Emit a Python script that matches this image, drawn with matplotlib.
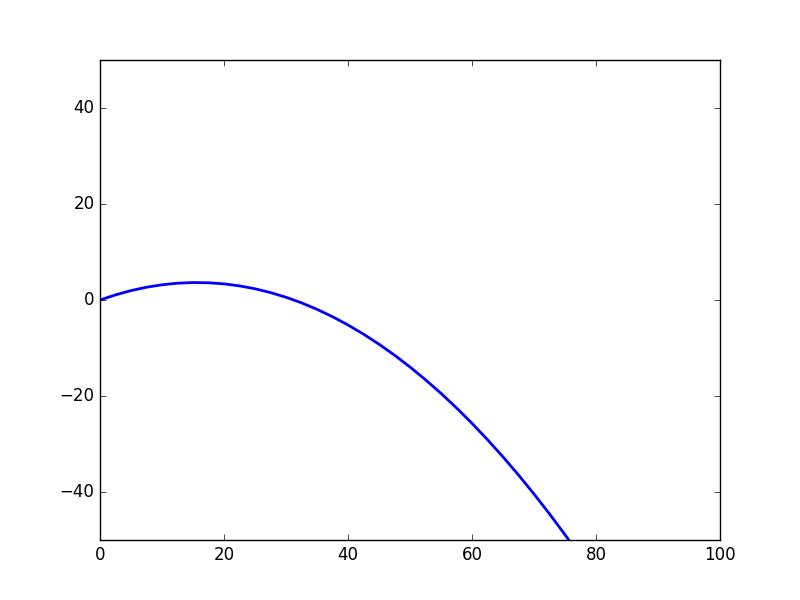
import matplotlib
matplotlib.use("Agg")
import matplotlib.pyplot as plt

# trajectory (distance vs height)
x_vals = [0, 2.5, 5, 7.5, 10, 12.5, 15, 17.5, 20, 22.5, 25, 27.5, 30, 32.5,
          35, 37.5, 40, 42.5, 45, 47.5, 50, 52.5, 55, 57.5, 60, 62.5, 65,
          67.5, 70, 72.5, 75, 77.5, 80]
y_vals = [0.0, 1.07, 1.96, 2.66, 3.17, 3.50, 3.64, 3.59, 3.36, 2.94, 2.34,
          1.55, 0.57, -0.59, -1.94, -3.48, -5.21, -7.11, -9.21, -11.49,
          -13.96, -16.62, -19.45, -22.48, -25.70, -29.10, -32.68, -36.46,
          -40.42, -44.56, -48.90, -53.42, -58.12]

plt.style.use("classic")
fig, ax = plt.subplots(figsize=(8, 6), dpi=100)
ax.plot(x_vals, y_vals, color="b", linewidth=2)
ax.set_xlim(0, 100)
ax.set_ylim(-50, 50)
fig.savefig("out.png", dpi=100)
plt.close(fig)
